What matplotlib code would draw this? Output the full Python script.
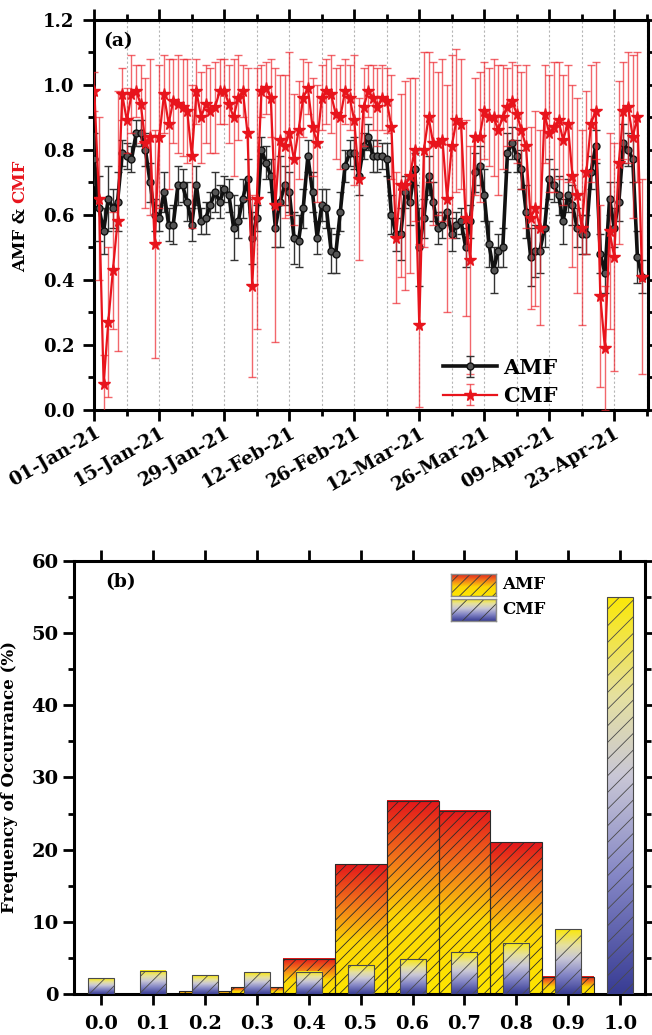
import datetime as dt
import numpy as np
import matplotlib
matplotlib.use("Agg")
import matplotlib.pyplot as plt
import matplotlib.dates as mdates
from matplotlib.colors import LinearSegmentedColormap
from matplotlib.patches import Rectangle
from matplotlib.ticker import MultipleLocator, FixedLocator

plt.rcParams['font.family'] = ['DejaVu Serif']
plt.rcParams['font.weight'] = 'bold'
plt.rcParams['hatch.linewidth'] = 0.6

# ---- panel (a): daily AMF / CMF, 01-Jan-21 onwards ----
start = dt.date(2021, 1, 1)

amf = [0.77, 0.62, 0.55, 0.65, 0.62, 0.64, 0.79, 0.78, 0.77, 0.85,
       0.85, 0.80, 0.70, 0.60, 0.59, 0.67, 0.57, 0.57, 0.69, 0.69,
       0.64, 0.57, 0.69, 0.58, 0.59, 0.63, 0.67, 0.64, 0.68, 0.66,
       0.56, 0.58, 0.65, 0.71, 0.53, 0.59, 0.80, 0.76, 0.72, 0.56,
       0.64, 0.69, 0.67, 0.53, 0.52, 0.62, 0.78, 0.67, 0.53, 0.63,
       0.62, 0.49, 0.48, 0.61, 0.75, 0.79, 0.79, 0.72, 0.81, 0.84,
       0.78, 0.78, 0.78, 0.77, 0.60, 0.54, 0.54, 0.67, 0.64, 0.74,
       0.50, 0.59, 0.72, 0.64, 0.56, 0.57, 0.61, 0.54, 0.57, 0.58,
       0.50, 0.58, 0.73, 0.75, 0.66, 0.51, 0.43, 0.49, 0.50, 0.79,
       0.82, 0.78, 0.74, 0.61, 0.47, 0.49, 0.49, 0.56, 0.71, 0.69,
       0.66, 0.58, 0.66, 0.63, 0.56, 0.54, 0.54, 0.73, 0.81, 0.48,
       0.42, 0.65, 0.56, 0.64, 0.82, 0.80, 0.77, 0.47, 0.41]

amf_err = [0.08, 0.10, 0.07, 0.10, 0.06, 0.09, 0.04, 0.04, 0.04, 0.04,
           0.04, 0.05, 0.06, 0.05, 0.04, 0.06, 0.05, 0.06, 0.06, 0.05,
           0.06, 0.05, 0.06, 0.04, 0.05, 0.04, 0.06, 0.05, 0.04, 0.05,
           0.10, 0.05, 0.06, 0.06, 0.08, 0.04, 0.04, 0.05, 0.05, 0.06,
           0.14, 0.06, 0.06, 0.08, 0.08, 0.06, 0.05, 0.06, 0.05, 0.05,
           0.06, 0.07, 0.06, 0.06, 0.05, 0.04, 0.05, 0.06, 0.04, 0.04,
           0.05, 0.05, 0.04, 0.05, 0.06, 0.05, 0.08, 0.05, 0.07, 0.05,
           0.12, 0.06, 0.06, 0.06, 0.05, 0.04, 0.04, 0.05, 0.04, 0.04,
           0.06, 0.05, 0.06, 0.06, 0.08, 0.07, 0.07, 0.05, 0.06, 0.06,
           0.05, 0.05, 0.06, 0.08, 0.09, 0.08, 0.07, 0.06, 0.06, 0.05,
           0.06, 0.07, 0.05, 0.06, 0.06, 0.06, 0.06, 0.05, 0.05, 0.06,
           0.06, 0.05, 0.06, 0.06, 0.06, 0.05, 0.07, 0.08, 0.05]

cmf = [0.98, 0.65, 0.08, 0.27, 0.43, 0.58, 0.97, 0.89, 0.97, 0.98,
       0.94, 0.82, 0.84, 0.51, 0.84, 0.97, 0.88, 0.95, 0.94, 0.93,
       0.92, 0.78, 0.98, 0.90, 0.94, 0.92, 0.93, 0.98, 0.98, 0.94,
       0.90, 0.96, 0.98, 0.85, 0.38, 0.65, 0.98, 0.99, 0.96, 0.63,
       0.83, 0.81, 0.85, 0.77, 0.86, 0.96, 0.99, 0.87, 0.82, 0.96,
       0.98, 0.97, 0.91, 0.90, 0.98, 0.96, 0.89, 0.71, 0.93, 0.98,
       0.96, 0.93, 0.96, 0.95, 0.87, 0.53, 0.69, 0.69, 0.72, 0.80,
       0.26, 0.80, 0.90, 0.82, 0.82, 0.83, 0.65, 0.81, 0.89, 0.88,
       0.59, 0.46, 0.84, 0.84, 0.92, 0.90, 0.90, 0.86, 0.90, 0.93,
       0.95, 0.91, 0.86, 0.81, 0.59, 0.62, 0.56, 0.91, 0.85, 0.87,
       0.89, 0.83, 0.88, 0.72, 0.66, 0.56, 0.73, 0.88, 0.92, 0.35,
       0.19, 0.55, 0.47, 0.76, 0.92, 0.93, 0.84, 0.90, 0.41]

cmf_err = [0.06, 0.25, 0.09, 0.23, 0.18, 0.40, 0.08, 0.10, 0.12, 0.08,
           0.12, 0.20, 0.24, 0.35, 0.22, 0.12, 0.20, 0.13, 0.15, 0.15,
           0.16, 0.22, 0.10, 0.14, 0.12, 0.13, 0.14, 0.10, 0.10, 0.12,
           0.18, 0.13, 0.08, 0.20, 0.28, 0.40, 0.08, 0.08, 0.12, 0.42,
           0.20, 0.22, 0.25, 0.20, 0.15, 0.12, 0.08, 0.15, 0.18, 0.10,
           0.10, 0.12, 0.14, 0.16, 0.10, 0.10, 0.20, 0.25, 0.12, 0.08,
           0.10, 0.12, 0.10, 0.10, 0.16, 0.20, 0.28, 0.32, 0.30, 0.22,
           0.25, 0.30, 0.20, 0.25, 0.22, 0.25, 0.35, 0.28, 0.22, 0.20,
           0.30, 0.35, 0.18, 0.20, 0.15, 0.15, 0.18, 0.20, 0.16, 0.12,
           0.12, 0.15, 0.18, 0.25, 0.28, 0.30, 0.30, 0.15, 0.18, 0.20,
           0.18, 0.20, 0.18, 0.28, 0.30, 0.30, 0.25, 0.18, 0.15, 0.28,
           0.19, 0.30, 0.35, 0.25, 0.15, 0.17, 0.25, 0.20, 0.30]

dates = [start + dt.timedelta(days=i) for i in range(len(amf))]

# ---- panel (b): frequency of occurrence ----
bins = [0.0, 0.1, 0.2, 0.3, 0.4, 0.5, 0.6, 0.7, 0.8, 0.9, 1.0]
amf_freq = [0.0, 0.0, 0.37, 0.93, 4.9, 18.0, 26.8, 25.4, 21.0, 2.4, 0.0]
cmf_freq = [2.2, 3.2, 2.6, 3.0, 3.1, 4.0, 4.8, 5.8, 7.1, 9.0, 55.0]

RED = '#e8141c'

fig = plt.figure(figsize=(6.52, 10.35), dpi=100)

# ================= (a) =================
ax1 = fig.add_axes([0.144, 0.604, 0.850, 0.377])
ax1.errorbar(dates, amf, yerr=amf_err, fmt='-o', color='#111111', lw=2.6,
             ms=5, mfc='#555555', mec='#111111', mew=1.0,
             ecolor='#333333', elinewidth=1.0, capsize=3, capthick=1.0,
             zorder=3, label='AMF')
ax1.errorbar(dates, cmf, yerr=cmf_err, fmt='-*', color=RED, lw=1.6,
             ms=8.5, mfc=RED, mec=RED,
             ecolor=(0.93, 0.15, 0.18, 0.7), elinewidth=1.0, capsize=3, capthick=1.0,
             zorder=4, label='CMF')

d0 = mdates.date2num(dates[0])
ax1.set_xlim(d0 - 0.1, d0 + 119.3)
ax1.set_ylim(0, 1.2)
ax1.xaxis.set_major_locator(FixedLocator([d0 + 14 * k for k in range(9)]))
ax1.xaxis.set_minor_locator(FixedLocator([d0 + 7 + 14 * k for k in range(9)]))
ax1.xaxis.set_major_formatter(mdates.DateFormatter('%d-%b-%y'))
ax1.yaxis.set_major_locator(MultipleLocator(0.2))
ax1.yaxis.set_minor_locator(MultipleLocator(0.1))
ax1.yaxis.set_major_formatter(plt.FuncFormatter(lambda v, p: '%.1f' % v))
ax1.grid(True, which='both', axis='x', color='#b5b5b5', lw=0.8, ls=(0, (2, 2)))
for lab in ax1.get_xticklabels():
    lab.set_rotation(30)
    lab.set_ha('right')
    lab.set_va('top')
    lab.set_rotation_mode('anchor')
ax1.text(0.016, 0.945, '(a)', transform=ax1.transAxes, fontsize=13.5,
         fontweight='bold', va='center', ha='left')
ax1.legend(loc='lower left', bbox_to_anchor=(0.63, 0.01), frameon=False,
           fontsize=15, handlelength=2.6, handletextpad=0.3, labelspacing=0.4,
           borderpad=0, borderaxespad=0)

# ================= (b) =================
ax2 = fig.add_axes([0.1135, 0.0396, 0.876, 0.4184])
amf_cmap = LinearSegmentedColormap.from_list(
    'amf', [(0.0, '#ffe600'), (0.4, '#fcd606'), (0.7, '#f2741a'), (1.0, '#e3161b')])
cmf_cmap = LinearSegmentedColormap.from_list(
    'cmf', [(0.0, '#383c94'), (0.3, '#8587c6'), (0.55, '#c9c7d6'), (0.75, '#e5e0a0'), (1.0, '#fbe808')])
grad = np.linspace(0, 1, 256).reshape(-1, 1)


def gradient_bars(ax, xs, hs, width, cmap, hatch, edge, z):
    for x, h in zip(xs, hs):
        if h <= 0:
            continue
        ax.imshow(grad, extent=(x - width / 2, x + width / 2, 0, h), origin='lower',
                  aspect='auto', cmap=cmap, zorder=z, interpolation='bilinear')
    ax.bar(xs, hs, width=width, fill=False, hatch=hatch, edgecolor=edge,
           linewidth=0.8, zorder=z + 0.1)


gradient_bars(ax2, bins, amf_freq, 0.1, amf_cmap, '///', '#2a2a2a', 2)
gradient_bars(ax2, bins, cmf_freq, 0.05, cmf_cmap, '//', '#4a4a4a', 3)

ax2.set_xlim(-0.052, 1.048)
ax2.set_ylim(0, 60)
ax2.set_xticks(bins)
ax2.xaxis.set_major_formatter(plt.FuncFormatter(lambda v, p: '%.1f' % v))
ax2.yaxis.set_major_locator(MultipleLocator(10))
ax2.yaxis.set_minor_locator(MultipleLocator(5))
ax2.set_ylabel('Frequency of Occurrance (%)', fontsize=12, fontweight='bold')
ax2.yaxis.set_label_coords(-0.098, 0.5)
ax2.text(0.054, 0.951, '(b)', transform=ax2.transAxes, fontsize=13.5,
         fontweight='bold', va='center', ha='left')

# legend swatches for (b)
for (y0, cmap, hatch, name) in [(0.919, amf_cmap, '///', 'AMF'),
                                (0.861, cmf_cmap, '//', 'CMF')]:
    sw = ax2.inset_axes([0.660, y0, 0.079, 0.052])
    sw.imshow(grad, origin='lower', aspect='auto', cmap=cmap, extent=(0, 1, 0, 1))
    sw.add_patch(Rectangle((0, 0), 1, 1, fill=False, hatch=hatch,
                           edgecolor='#3a3a3a', lw=0.8))
    sw.set_xlim(0, 1)
    sw.set_ylim(0, 1)
    sw.set_xticks([])
    sw.set_yticks([])
    for s in sw.spines.values():
        s.set_color('#8a8a8a')
        s.set_linewidth(1.0)
    ax2.text(0.750, y0 + 0.026, name, transform=ax2.transAxes, fontsize=12,
             fontweight='bold', va='center', ha='left')

for ax in (ax1, ax2):
    for s in ax.spines.values():
        s.set_linewidth(2.2)
    ax.tick_params(which='both', direction='out', top=True, right=True, width=2.0)
    ax.tick_params(which='major', length=8)
    ax.tick_params(which='minor', length=4.5)

ax1.tick_params(axis='y', labelsize=13, pad=6)
ax1.tick_params(axis='x', labelsize=13.5, pad=2)
ax2.tick_params(axis='y', labelsize=14, pad=3)
ax2.tick_params(axis='x', labelsize=14, pad=7)

# two-colour y label for (a): "AMF &" in black, "CMF" in red
t1 = fig.text(0.031, 1 - 272 / 1035, 'AMF &', rotation=90, ha='center', va='bottom',
              fontsize=12, fontweight='bold', color='black')
fig.canvas.draw()
bb = t1.get_window_extent()
top = fig.transFigure.inverted().transform((0, bb.y1))[1]
fig.text(0.031, top + 0.005, 'CMF', rotation=90, ha='center', va='bottom',
         fontsize=12, fontweight='bold', color=RED)

fig.savefig('out.png', dpi=100)
